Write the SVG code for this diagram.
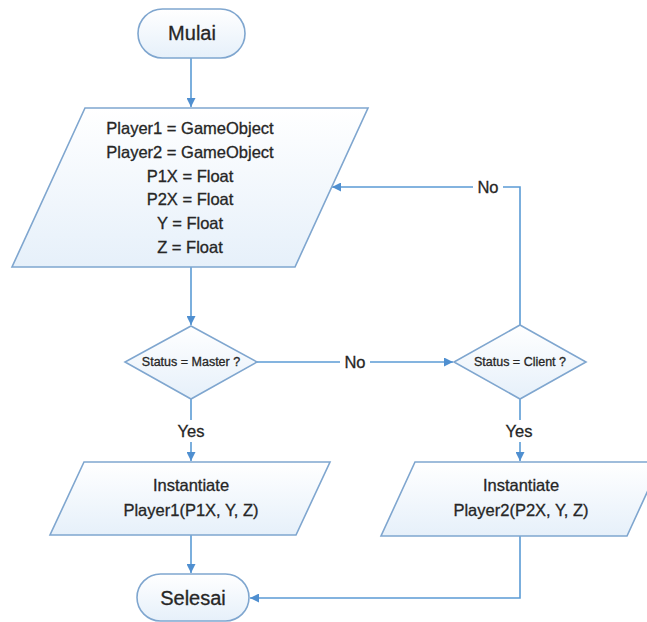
<svg xmlns="http://www.w3.org/2000/svg" width="647" height="622" viewBox="0 0 647 622">
<defs>
<linearGradient id="g" x1="0" y1="0" x2="0" y2="1">
<stop offset="0" stop-color="#ffffff"/>
<stop offset="1" stop-color="#e6f0fa"/>
</linearGradient>
<marker id="ah" viewBox="0 0 10 10" refX="10" refY="5" markerWidth="9" markerHeight="9" markerUnits="userSpaceOnUse" orient="auto">
<path d="M0,0 L10,5 L0,10 z" fill="#4f8fd0"/>
</marker>
<style>
.shape{fill:url(#g);stroke:#7fa6cf;stroke-width:1.6}
.conn{fill:none;stroke:#5b9bd5;stroke-width:1.6}
.t{font-family:"Liberation Sans",Arial,sans-serif;fill:#262626;stroke:#262626;stroke-width:0.3;text-anchor:middle}
.big{font-size:20px}
.mid{font-size:16.5px}
.small{font-size:12.5px}
.lbl{font-size:16.5px}
</style>
</defs>
<rect width="647" height="622" fill="#ffffff"/>
<g id="connectors">
<line class="conn" x1="191" y1="58" x2="191" y2="107" marker-end="url(#ah)"/>
<line class="conn" x1="191" y1="267" x2="191" y2="325" marker-end="url(#ah)"/>
<line class="conn" x1="191" y1="399" x2="191" y2="461" marker-end="url(#ah)"/>
<line class="conn" x1="257" y1="362" x2="453" y2="362" marker-end="url(#ah)"/>
<polyline class="conn" points="520,325 520,187 332,187" marker-end="url(#ah)"/>
<line class="conn" x1="520" y1="399" x2="520" y2="461" marker-end="url(#ah)"/>
<line class="conn" x1="191" y1="535" x2="191" y2="573" marker-end="url(#ah)"/>
<polyline class="conn" points="520,536 520,598 250,598" marker-end="url(#ah)"/>
<rect x="172" y="420" width="38" height="22" fill="#ffffff"/>
<text class="t lbl" x="191" y="437">Yes</text>
<rect x="500" y="420" width="38" height="22" fill="#ffffff"/>
<text class="t lbl" x="519" y="437">Yes</text>
<rect x="340" y="351" width="30" height="22" fill="#ffffff"/>
<text class="t lbl" x="355" y="368">No</text>
<rect x="473" y="176" width="30" height="22" fill="#ffffff"/>
<text class="t lbl" x="488" y="193">No</text>
</g>
<g id="mulai">
<rect class="shape" x="138" y="9" width="107" height="49" rx="24.5"/>
<text class="t big" x="192" y="40">Mulai</text>
</g>
<g id="declare">
<polygon class="shape" points="85,108 368,108 295,267 12,267"/>
<text class="t mid" x="190" y="134">Player1 = GameObject</text>
<text class="t mid" x="190" y="158">Player2 = GameObject</text>
<text class="t mid" x="190" y="182">P1X = Float</text>
<text class="t mid" x="190" y="205">P2X = Float</text>
<text class="t mid" x="190" y="229">Y = Float</text>
<text class="t mid" x="190" y="253">Z = Float</text>
</g>
<g id="master">
<polygon class="shape" points="191,326 257,362 191,399 125,362"/>
<text class="t small" x="191" y="366">Status = Master ?</text>
</g>
<g id="client">
<polygon class="shape" points="520,325 586,362 520,399 454,362"/>
<text class="t small" x="520" y="366">Status = Client ?</text>
</g>
<g id="inst1">
<polygon class="shape" points="84,462 330,462 296,535 50,535"/>
<text class="t mid" x="191" y="491">Instantiate</text>
<text class="t mid" x="191" y="516">Player1(P1X, Y, Z)</text>
</g>
<g id="inst2">
<polygon class="shape" points="415,462 661,462 627,536 381,536"/>
<text class="t mid" x="521" y="491">Instantiate</text>
<text class="t mid" x="521" y="516">Player2(P2X, Y, Z)</text>
</g>
<g id="selesai">
<rect class="shape" x="137" y="574" width="112" height="47" rx="23.5"/>
<text class="t big" x="193" y="605">Selesai</text>
</g>
</svg>
